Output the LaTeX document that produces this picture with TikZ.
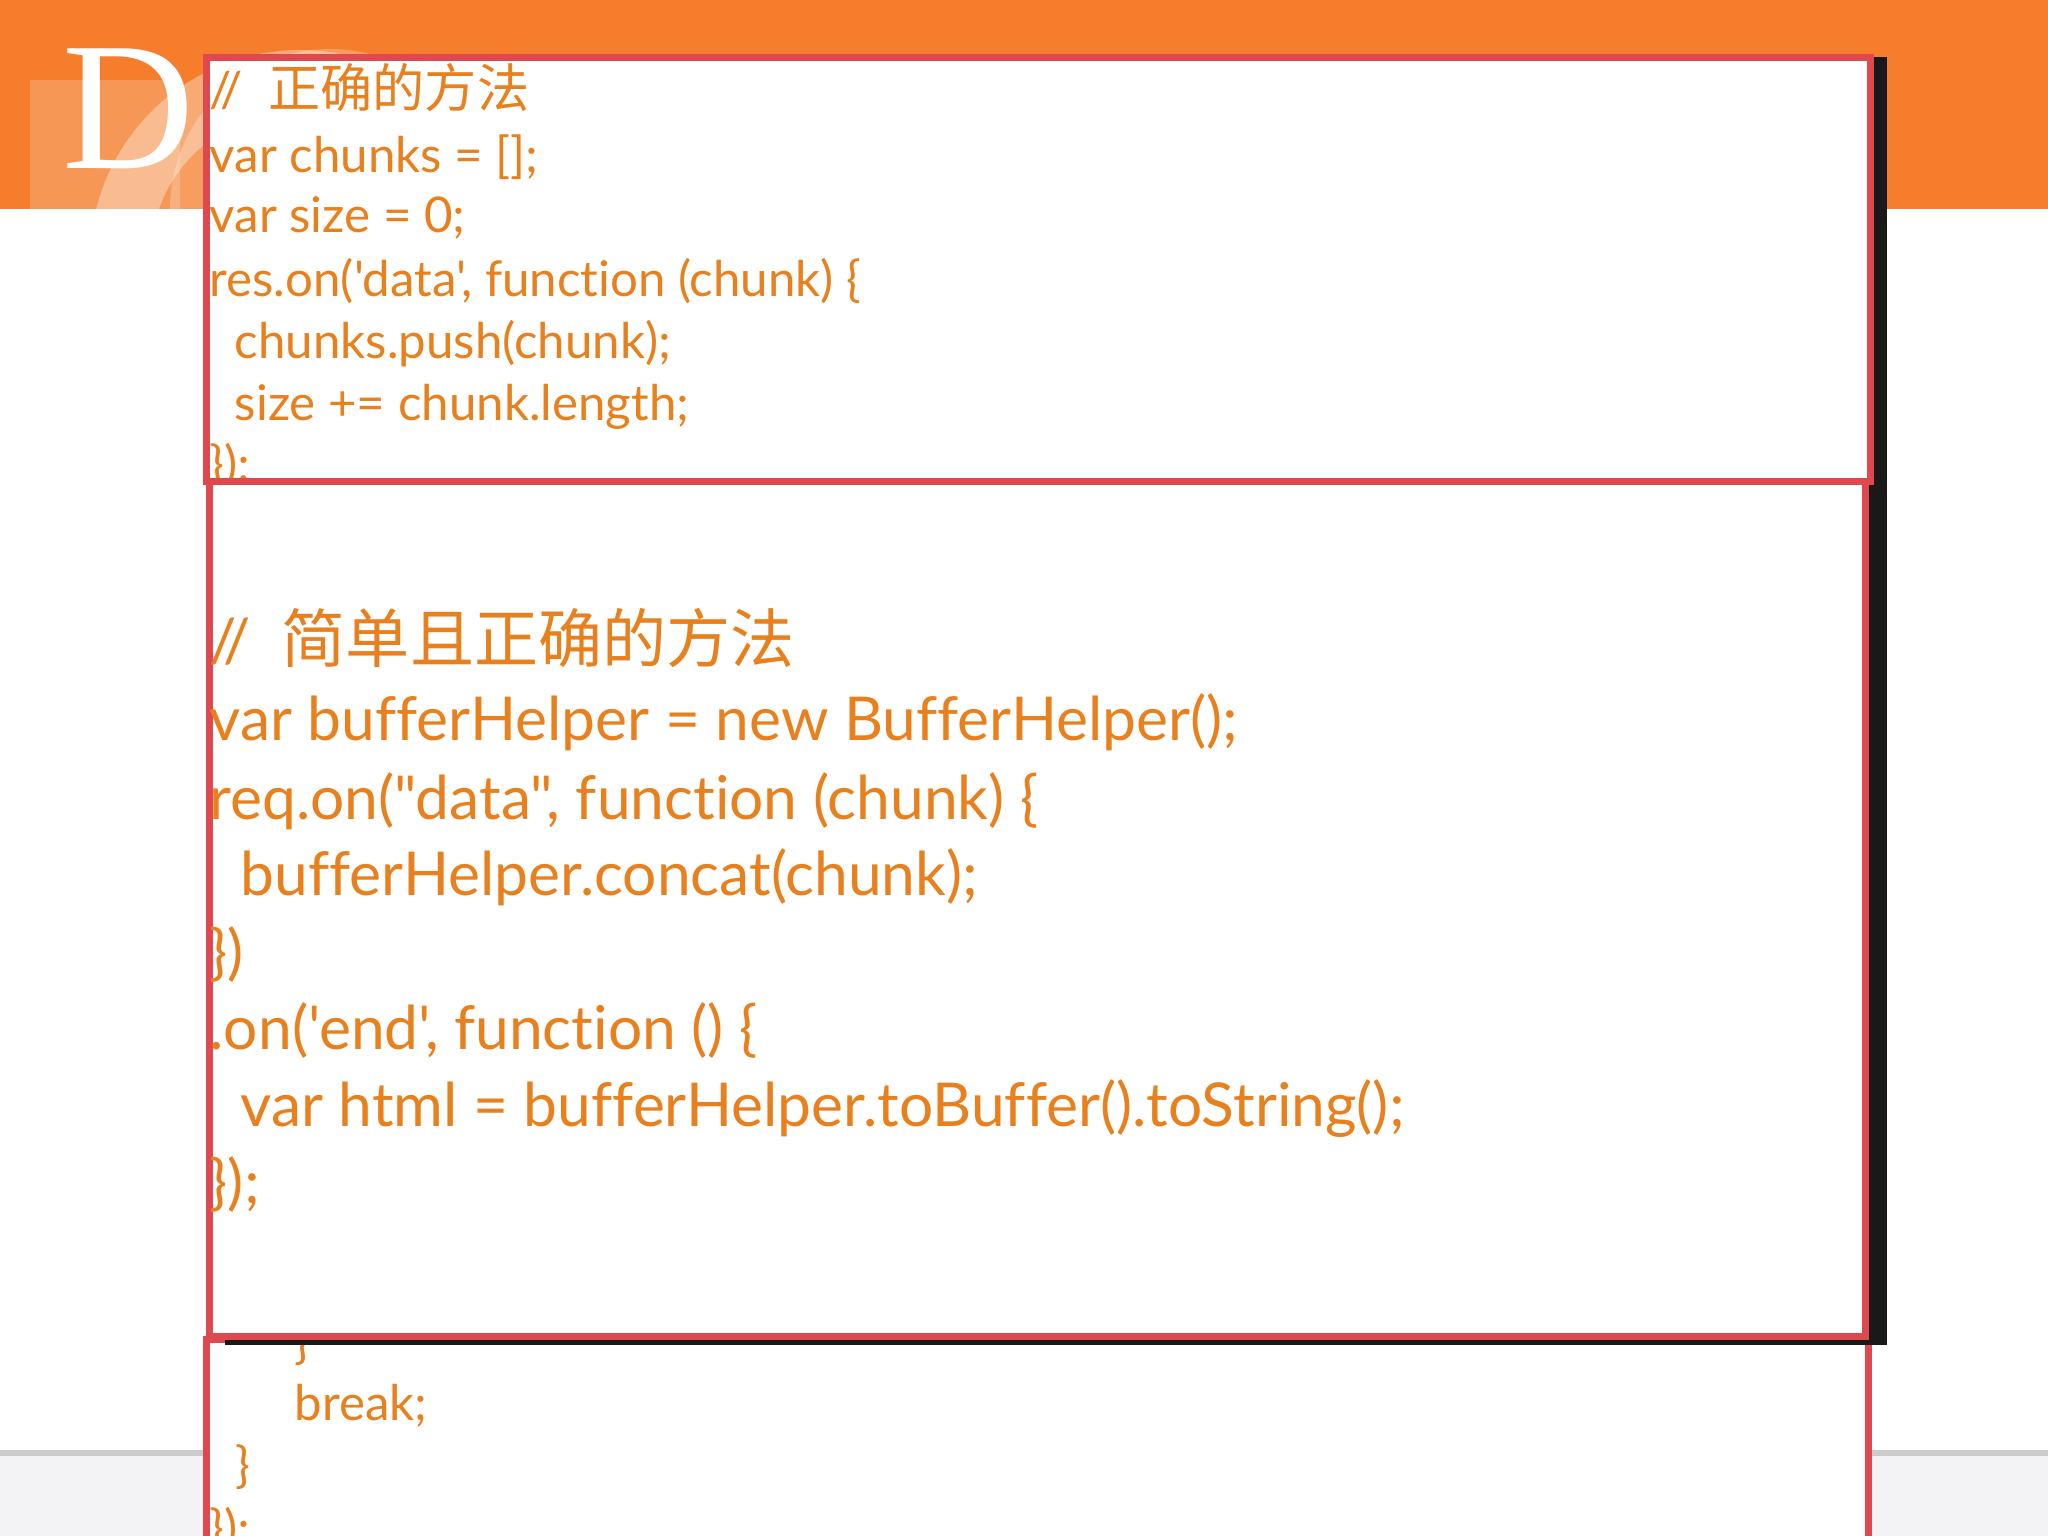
\documentclass[tikz,border=0pt]{standalone}
\usepackage{fontspec}
\setmainfont{Lato}[Ligatures={NoCommon,TeXOff}]
\newfontfamily\cjk{Noto Sans CJK SC}[Scale=1.06]
\newcommand{\sq}{'}
\newcommand{\dq}{"}
\definecolor{bandor}{HTML}{F57D2C}
\definecolor{codeor}{HTML}{E8801E}
\definecolor{boxred}{HTML}{E04850}
\definecolor{foot}{HTML}{F3F3F5}
\tikzset{
  box/.style={draw=boxred,line width=0.7mm,fill=white},
  sm/.style={anchor=base west,inner sep=0pt,text=codeor,font=\fontsize{14pt}{16pt}\selectfont},
  bg/.style={anchor=base west,inner sep=0pt,text=codeor,font=\fontsize{17.2pt}{19pt}\selectfont},
}
\begin{document}
\begin{tikzpicture}[x=0.01cm,y=-0.01cm]
\useasboundingbox (0,0) rectangle (2048,1536);
% background
\fill[white] (0,0) rectangle (2048,1536);
\fill[bandor] (0,0) rectangle (2048,209);
\fill[foot] (0,1453) rectangle (2048,1536);
\draw[gray!40,line width=0.6mm] (0,1453) -- (2048,1453);
% logo
\begin{scope}
\clip (0,0) rectangle (2048,209);
\fill[white,opacity=0.25] (330,209) circle (160);
\draw[white,opacity=0.35,line width=6mm] (300,260) circle (180);
\fill[white,opacity=0.2] (30,80) rectangle (180,209);
\end{scope}
\fill[white,opacity=0.3] (95,209) -- (125,209) -- (110,225) -- cycle;
\node[anchor=base west,inner sep=0pt,text=white,font=\fontsize{52pt}{52pt}\selectfont] (logo) at (62,168) {\fontspec{Liberation Serif}D};
% shadows
\fill[black!90] (1868,57) rectangle (1887,1345);
% top box
\draw[box] (206,57) rectangle (1870,481);
\node[sm] (t1) at (209,107) {// \ {\cjk 正确的方法}};
\node[sm] (t2) at (209,172) {var chunks = [];};
\node[sm] (t3) at (209,232) {var size = 0;};
\node[sm] (t4) at (209,296) {res.on(\sq data\sq, function (chunk) \{};
\node[sm] (t5) at (209,358) {\ \ chunks.push(chunk);};
\node[sm] (t6) at (209,420) {\ \ size += chunk.length;};
\node[sm] (t7) at (209,481) {\});};
% bottom box
\draw[box] (206,1339) rectangle (1868,1600);
\node[sm] (b0) at (294,1358) {\}};
\node[sm] (b1) at (294,1420) {break;};
\node[sm] (b2) at (235,1482) {\}};
\node[sm] (b3) at (209,1545) {\});};
\fill[black!90] (225,1334) rectangle (1887,1345);
% middle box
\draw[box] (209,481) rectangle (1865,1336);
\node[bg] (m1) at (209,662) {// \ {\cjk 简单且正确的方法}};
\node[bg] (m2) at (209,740) {var bufferHelper = new BufferHelper();};
\node[bg] (m3) at (209,819) {req.on(\dq data\dq, function (chunk) \{};
\node[bg] (m4) at (209,895) {\ \ bufferHelper.concat(chunk);};
\node[bg] (m5) at (209,973) {\})};
\node[bg] (m6) at (209,1049) {.on(\sq end\sq, function () \{};
\node[bg] (m7) at (209,1126) {\ \ var html = bufferHelper.toBuffer().toString();};
\node[bg] (m8) at (209,1203) {\});};
\end{tikzpicture}
\end{document}
